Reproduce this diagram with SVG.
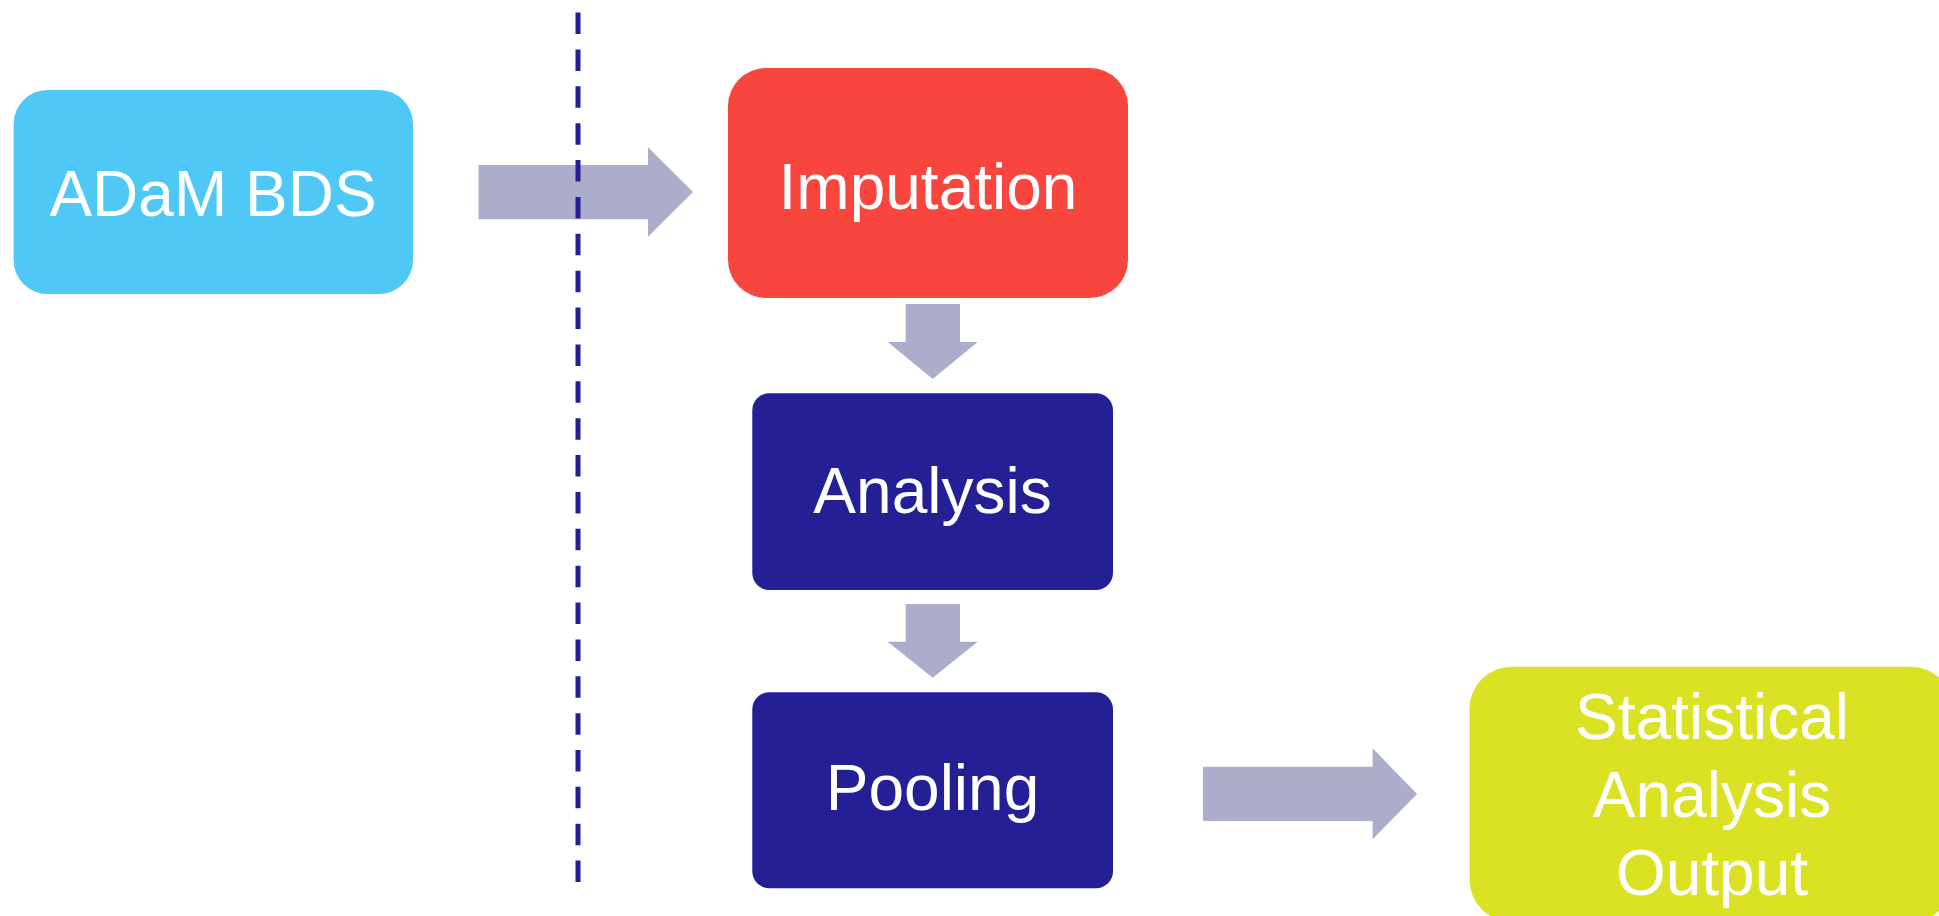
<svg xmlns="http://www.w3.org/2000/svg" width="1939" height="916" viewBox="0 0 1939 916">
  <style>
    .lbl { font-family: "Liberation Sans", Arial, sans-serif; font-size: 64px; fill: #ffffff; text-anchor: middle; }
    .flow { fill: #ACACCB; }
    .divider { stroke: #241F95; stroke-width: 5; stroke-dasharray: 21.5 15.37; fill: none; }
  </style>
  <rect width="1939" height="916" fill="#ffffff"/>

  <!-- block arrows between steps -->
  <g id="connectors">
    <polygon class="flow" points="478.5,165 648,165 648,147.3 693,192 648,236.7 648,219.3 478.5,219.3"/>
    <polygon class="flow" points="905.7,304 960,304 960,342 977.7,342 932.7,379 887.7,342 905.7,342"/>
    <polygon class="flow" points="905.7,604 960,604 960,641.7 977.7,641.7 932.7,677.7 887.7,641.7 905.7,641.7"/>
    <polygon class="flow" points="1203,766.7 1372.6,766.7 1372.6,748.3 1417,794 1372.6,839.3 1372.6,821 1203,821"/>
  </g>

  <g id="node-adam">
    <rect x="13.6" y="90" width="399.4" height="204" rx="34" fill="#4FC8F5"/>
    <text class="lbl" x="213" y="216">ADaM BDS</text>
  </g>

  <g id="node-imputation">
    <rect x="728" y="68" width="400" height="230" rx="38" fill="#F8453E"/>
    <text class="lbl" x="928" y="208.5">Imputation</text>
  </g>

  <g id="node-analysis">
    <rect x="752.3" y="393.3" width="360.7" height="196.7" rx="17" fill="#241F95"/>
    <text class="lbl" x="932.5" y="513">Analysis</text>
  </g>

  <g id="node-pooling">
    <rect x="752.3" y="692.3" width="360.7" height="196" rx="17" fill="#241F95"/>
    <text class="lbl" x="932.5" y="810">Pooling</text>
  </g>

  <g id="node-output">
    <rect x="1469.5" y="666.7" width="483.5" height="255" rx="42" fill="#DBE224"/>
    <text class="lbl" x="1712" y="739">Statistical</text>
    <text class="lbl" x="1712" y="817">Analysis</text>
    <text class="lbl" x="1712" y="895">Output</text>
  </g>

  <!-- vertical dashed divider, drawn over the first arrow -->
  <g id="divider">
    <line class="divider" x1="578" y1="12.6" x2="578" y2="884"/>
  </g>
</svg>
